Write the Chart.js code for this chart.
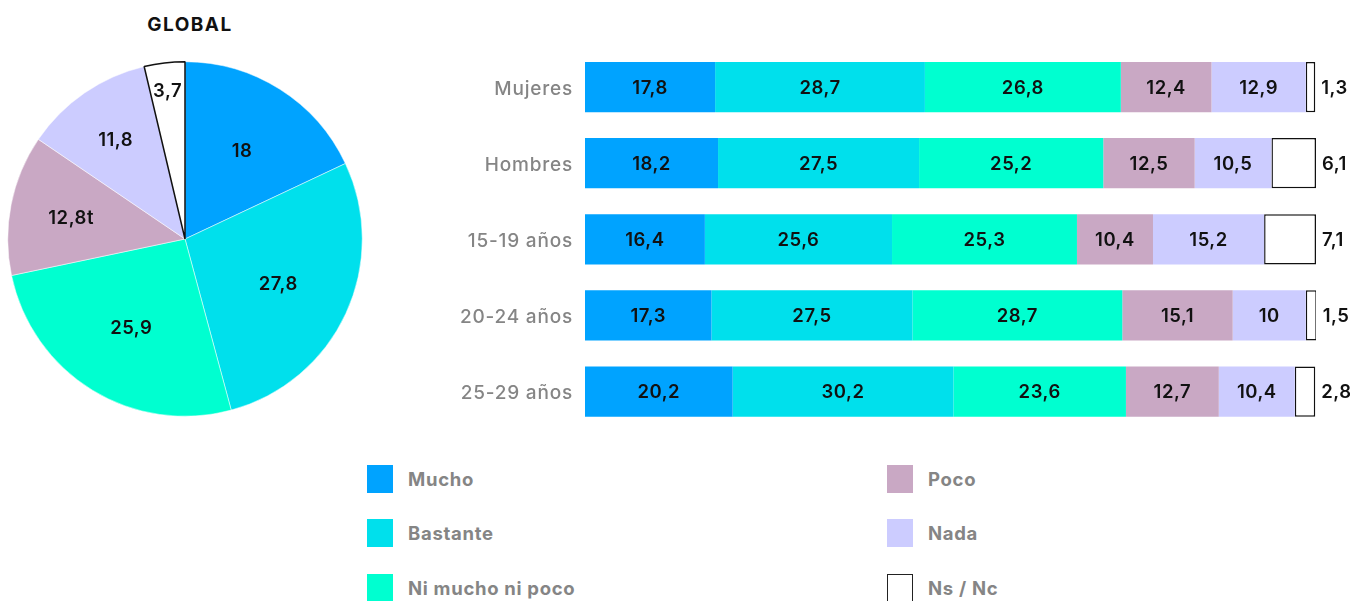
<!DOCTYPE html>
<html>
<head>
<meta charset="utf-8">
<script src="https://cdn.jsdelivr.net/npm/chart.js@4"></script>
<style>
  html, body { margin:0; padding:0; background:#fff; width:1350px; height:601px; overflow:hidden; font-family: Inter, 'Noto Sans', sans-serif; }
  #title { position:absolute; left:90px; width:200px; top:13px; text-align:center; font-weight:700; font-size:19px; color:#111; letter-spacing:1.5px; }
  #pieWrap { position:absolute; left:0; top:54px; width:370px; height:370px; }
  #barWrap { position:absolute; left:400px; top:0; width:950px; height:450px; }
  .leg { position:absolute; height:28px; display:flex; align-items:center; }
  .leg .box { width:26px; height:28px; box-sizing:border-box; margin-right:15px; }
  .leg .txt { font-weight:700; font-size:18.5px; color:#858585; letter-spacing:0.7px; }
</style>
</head>
<body>
<div id="title">GLOBAL</div>
<div id="pieWrap"><canvas id="pie" width="370" height="370"></canvas></div>
<div id="barWrap"><canvas id="bar" width="950" height="450"></canvas></div>
<div id="legend"></div>
<script>
// ---- Data ----
const seriesNames = ['Mucho', 'Bastante', 'Ni mucho ni poco', 'Poco', 'Nada', 'Ns / Nc'];
const globalValues = [18, 27.8, 25.9, 12.8, 11.8, 3.7];
const globalLabels = ['18', '27,8', '25,9', '12,8t', '11,8', '3,7'];
const categories = ['Mujeres', 'Hombres', '15-19 años', '20-24 años', '25-29 años'];
const mucho    = [17.8, 18.2, 16.4, 17.3, 20.2];
const bastante = [28.7, 27.5, 25.6, 27.5, 30.2];
const niMucho  = [26.8, 25.2, 25.3, 28.7, 23.6];
const poco     = [12.4, 12.5, 10.4, 15.1, 12.7];
const nada     = [12.9, 10.5, 15.2, 10, 10.4];
const nsnc     = [1.3, 6.1, 7.1, 1.5, 2.8];

// ---- Styles ----
const colors = ['#00A3FF', '#00E0EC', '#00FFD0', '#C9A8C4', '#CCCCFF', '#FFFFFF'];
const fmt = v => String(v).replace('.', ',');
const labelFont = '600 18.5px Inter, "Noto Sans", sans-serif';

const spacingPlugin = {
  id: 'spacing',
  beforeDraw(chart) { chart.ctx.letterSpacing = '0.8px'; }
};

// Pie labels plugin
const pieLabelRadius = [0.6, 0.58, 0.58, 0.655, 0.69, 0.85];
const pieLabelPlugin = {
  id: 'pieLabels',
  afterDatasetsDraw(chart) {
    const ctx = chart.ctx;
    const meta = chart.getDatasetMeta(0);
    ctx.save();
    ctx.letterSpacing = '0.5px';
    ctx.font = labelFont;
    ctx.fillStyle = '#111';
    ctx.textAlign = 'center';
    ctx.textBaseline = 'middle';
    meta.data.forEach((arc, i) => {
      const p = arc.getProps(['x', 'y', 'startAngle', 'endAngle', 'outerRadius'], true);
      const mid = (p.startAngle + p.endAngle) / 2;
      const r = p.outerRadius * pieLabelRadius[i];
      ctx.fillText(globalLabels[i], p.x + Math.cos(mid) * r, p.y + Math.sin(mid) * r + 2);
    });
    ctx.restore();
  }
};

new Chart(document.getElementById('pie'), {
  type: 'pie',
  data: {
    labels: seriesNames,
    datasets: [{
      data: globalValues,
      backgroundColor: colors,
      borderColor: ['#fff', '#fff', '#fff', '#fff', '#fff', '#111'],
      borderWidth: [0.5, 0.5, 0.5, 0.5, 0.5, 1.5]
    }]
  },
  options: {
    responsive: false,
    animation: false,
    layout: { padding: 7 },
    plugins: { legend: { display: false }, tooltip: { enabled: false } }
  },
  plugins: [pieLabelPlugin]
});

// Bar labels plugin
const barLabelPlugin = {
  id: 'barLabels',
  afterDatasetsDraw(chart) {
    const ctx = chart.ctx;
    ctx.save();
    ctx.letterSpacing = '0.5px';
    ctx.font = labelFont;
    ctx.fillStyle = '#111';
    ctx.textBaseline = 'middle';
    chart.data.datasets.forEach((ds, di) => {
      const meta = chart.getDatasetMeta(di);
      meta.data.forEach((el, i) => {
        const p = el.getProps(['x', 'y', 'base'], true);
        const txt = fmt(ds.data[i]);
        if (di === chart.data.datasets.length - 1) {
          ctx.textAlign = 'left';
          ctx.fillText(txt, p.x + 6, p.y + 1);
        } else {
          ctx.textAlign = 'center';
          ctx.fillText(txt, (p.x + p.base) / 2, p.y + 1);
        }
      });
    });
    ctx.restore();
  }
};

const barSeries = [mucho, bastante, niMucho, poco, nada, nsnc];
new Chart(document.getElementById('bar'), {
  type: 'bar',
  data: {
    labels: categories,
    datasets: barSeries.map((d, i) => ({
      label: seriesNames[i],
      data: d,
      backgroundColor: colors[i],
      borderColor: i === 5 ? '#111' : colors[i],
      borderWidth: i === 5 ? 1.5 : 0,
      borderSkipped: false,
      barPercentage: 1,
      categoryPercentage: 0.66
    }))
  },
  options: {
    indexAxis: 'y',
    responsive: false,
    animation: false,
    layout: { padding: { top: 49, bottom: 20.4, right: 34, left: 0 } },
    scales: {
      x: { stacked: true, min: 0, max: 100, display: false },
      y: {
        stacked: true,
        grid: { display: false, drawTicks: false },
        border: { display: false },
        ticks: { padding: 12, labelOffset: 2, color: '#858585', font: { family: 'Inter, "Noto Sans", sans-serif', size: 19, weight: '500' } },
        afterFit(scale) { scale.width = 185; scale.paddingTop = 0; scale.paddingBottom = 0; }
      }
    },
    plugins: { legend: { display: false }, tooltip: { enabled: false } }
  },
  plugins: [spacingPlugin, barLabelPlugin]
});

// HTML legend
const legendPos = [[367, 465], [367, 519], [367, 574], [887, 465], [887, 519], [887, 574]];
const legendEl = document.getElementById('legend');
seriesNames.forEach((name, i) => {
  const d = document.createElement('div');
  d.className = 'leg';
  d.style.left = legendPos[i][0] + 'px';
  d.style.top = legendPos[i][1] + 'px';
  const b = document.createElement('div');
  b.className = 'box';
  b.style.background = colors[i];
  if (i === 5) b.style.border = '1.5px solid #222';
  const t = document.createElement('span');
  t.className = 'txt';
  t.textContent = name;
  d.appendChild(b); d.appendChild(t);
  legendEl.appendChild(d);
});
</script>
</body>
</html>
